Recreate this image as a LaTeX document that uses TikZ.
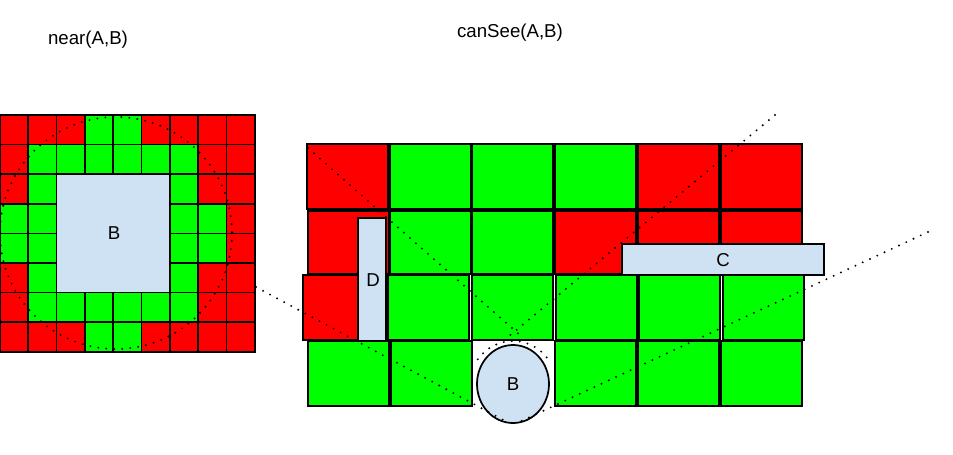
\documentclass[tikz,border=0pt]{standalone}
\usepackage{fontspec}
\setmainfont{Liberation Sans}
\usepackage{xcolor}
\definecolor{boxblue}{RGB}{207,226,243}

\begin{document}
\begin{tikzpicture}[x=0.75pt,y=0.75pt,yscale=-1,xscale=1,
  cell/.style={draw=black,line width=1.3pt},
  box/.style={draw=black,line width=1.3pt,fill=boxblue},
  sight/.style={line width=1.6pt,line cap=round,dash pattern={on 0pt off 6pt}},
  lbl/.style={font=\fontsize{14}{17}\selectfont}]
\useasboundingbox (0,0) rectangle (953,454);

%Shape: Grid near(A,B), one row per line
\foreach \c [count=\i from 0] in {red,red,red,green,green,red,red,red,red}
  \draw [cell,fill=\c] (\i*28.3,115) rectangle ++(28.3,29.6);
\foreach \c [count=\i from 0] in {red,green,green,green,green,green,green,red,red}
  \draw [cell,fill=\c] (\i*28.3,144.6) rectangle ++(28.3,29.6);
\foreach \c [count=\i from 0] in {red,green,white,white,white,white,green,red,red}
  \draw [cell,fill=\c] (\i*28.3,174.2) rectangle ++(28.3,29.6);
\foreach \c [count=\i from 0] in {green,green,white,white,white,white,green,green,red}
  \draw [cell,fill=\c] (\i*28.3,203.8) rectangle ++(28.3,29.6);
\foreach \c [count=\i from 0] in {green,green,white,white,white,white,green,green,red}
  \draw [cell,fill=\c] (\i*28.3,233.4) rectangle ++(28.3,29.6);
\foreach \c [count=\i from 0] in {red,green,white,white,white,white,green,red,red}
  \draw [cell,fill=\c] (\i*28.3,263) rectangle ++(28.3,29.6);
\foreach \c [count=\i from 0] in {red,green,green,green,green,green,green,red,red}
  \draw [cell,fill=\c] (\i*28.3,292.6) rectangle ++(28.3,29.6);
\foreach \c [count=\i from 0] in {red,red,red,green,green,red,red,red,red}
  \draw [cell,fill=\c] (\i*28.3,322.2) rectangle ++(28.3,29.6);

%Shape: Rectangle B
\draw [box] (56.6,174.2) rectangle (169.8,292.6);
%Shape: Circle
\draw [sight] (116,233) circle [radius=116];

%Shape: Grid canSee(A,B), one row per line
\foreach \x/\c in {307/red,390/green,472/green,555/green,638/red,721/red}
  \draw [cell,fill=\c] (\x,144) rectangle ++(81,65);
\foreach \x/\c in {308/red,390/green,472/green,555/red,638/red,721/red}
  \draw [cell,fill=\c] (\x,211) rectangle ++(81,63);
\foreach \x/\c in {303/red,388/green,472/green,556/green,639/green,723/green}
  \draw [cell,fill=\c] (\x,275) rectangle ++(81,65);
\foreach \x/\c in {308/green,391/green,555/green,638/green,721/green}
  \draw [cell,fill=\c] (\x,341) rectangle ++(81,65);

%Shape: Rectangle D
\draw [box] (358,218) rectangle (386,341);
%Shape: Rectangle C
\draw [box] (622,244) rectangle (824,275);
%Shape: Ellipse B
\draw [box] (513,384) ellipse [x radius=36, y radius=39];

%Lines of sight
\draw [sight] (256,287) -- (509,423);
\draw [sight] (928,232) -- (517,423);
\draw [sight] (308,148) -- (521,336);
\draw [sight] (775,115) -- (508,337);
\draw [sight] (513,384) ++(215:43) arc [start angle=215, end angle=325, radius=43];

% Text Node
\node [lbl] (nearTitle) at (88,40) {near(A,B)};
% Text Node
\node [lbl] (canSeeTitle) at (510,33) {canSee(A,B)};
% Text Node
\node [lbl] (nearB) at (114,233) {B};
% Text Node
\node [lbl] (dLabel) at (373,280) {D};
% Text Node
\node [lbl] (cLabel) at (723,260) {C};
% Text Node
\node [lbl] (seeB) at (513,384) {B};

\end{tikzpicture}
\end{document}
